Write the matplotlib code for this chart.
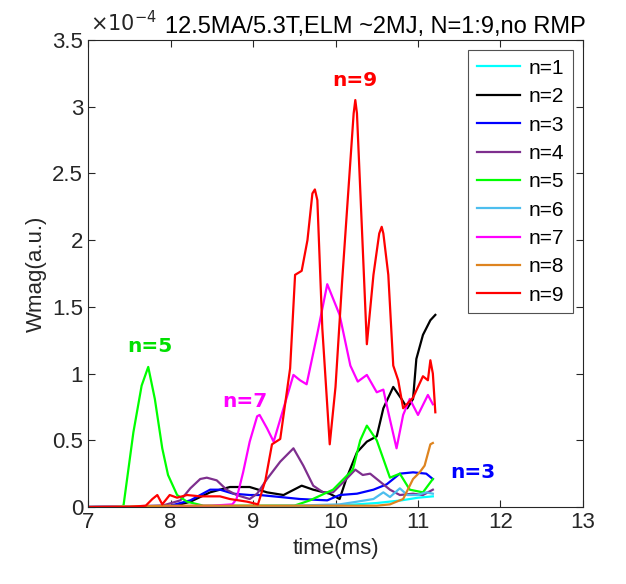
import matplotlib
matplotlib.use("Agg")
import matplotlib.pyplot as plt

# time axes (ms) and Wmag values (x1e-4)
t1 = [7.0, 10.0, 10.5, 10.8, 11.0, 11.18]
w1 = [0.0, 0.01, 0.03, 0.05, 0.07, 0.08]

t2 = [7.0, 8.0, 8.24, 8.48, 8.72, 8.96, 9.17, 9.37, 9.59, 9.73, 9.93, 10.05, 10.13,
      10.26, 10.38, 10.5, 10.58, 10.7, 10.8, 10.87, 10.94, 10.98, 11.06, 11.15, 11.21]
w2 = [0.0, 0.0, 0.04, 0.11, 0.15, 0.15, 0.11, 0.09, 0.16, 0.13, 0.1, 0.06, 0.21,
      0.41, 0.49, 0.53, 0.74, 0.9, 0.81, 0.74, 0.81, 1.11, 1.29, 1.4, 1.44]

t3 = [7.0, 8.0, 8.24, 8.36, 8.48, 8.6, 8.76, 8.96, 9.08, 9.33, 9.57, 9.9, 10.05,
      10.26, 10.46, 10.62, 10.78, 10.94, 11.1, 11.18]
w3 = [0.0, 0.01, 0.05, 0.09, 0.13, 0.13, 0.1, 0.09, 0.09, 0.075, 0.06, 0.05, 0.09,
      0.1, 0.13, 0.17, 0.25, 0.26, 0.25, 0.21]

t4 = [7.0, 7.9, 8.12, 8.24, 8.36, 8.44, 8.56, 8.68, 8.8, 8.96, 9.05, 9.17, 9.33, 9.49,
      9.61, 9.73, 9.85, 9.97, 10.1, 10.24, 10.33, 10.42, 10.54, 10.66, 10.78, 10.94,
      11.06, 11.18]
w4 = [0.0, 0.01, 0.05, 0.14, 0.21, 0.22, 0.2, 0.13, 0.09, 0.06, 0.1, 0.21, 0.34, 0.44,
      0.31, 0.16, 0.11, 0.11, 0.19, 0.28, 0.24, 0.25, 0.19, 0.13, 0.09, 0.1,
      0.09, 0.13]

t5 = [7.0, 7.35, 7.43, 7.55, 7.65, 7.73, 7.81, 7.9, 7.97, 8.08, 8.2, 8.4, 9.0, 9.5,
      9.69, 9.97, 10.21, 10.3, 10.38, 10.5, 10.66, 10.78, 10.9, 11.06, 11.18]
w5 = [0.0, 0.0, 0.01, 0.56, 0.91, 1.05, 0.81, 0.44, 0.24, 0.09, 0.04, 0.01, 0.01, 0.01,
      0.05, 0.13, 0.28, 0.5, 0.61, 0.5, 0.22, 0.25, 0.13, 0.11, 0.21]

t6 = [7.0, 9.5, 10.05, 10.26, 10.46, 10.58, 10.66, 10.78, 10.87, 10.99, 11.1, 11.18]
w6 = [0.0, 0.01, 0.02, 0.04, 0.06, 0.11, 0.075, 0.14, 0.09, 0.09, 0.11, 0.1]

t7 = [7.0, 8.5, 8.75, 8.8, 8.88, 8.96, 9.05, 9.08, 9.17, 9.25, 9.37, 9.49, 9.57, 9.65,
      9.78, 9.9, 10.05, 10.18, 10.27, 10.38, 10.5, 10.58, 10.64, 10.74, 10.82, 10.9,
      11.0, 11.12, 11.18]
w7 = [0.0, 0.01, 0.02, 0.06, 0.26, 0.49, 0.68, 0.69, 0.59, 0.49, 0.74, 0.99, 0.95, 0.92,
      1.3, 1.67, 1.44, 1.06, 0.94, 0.99, 0.86, 0.88, 0.71, 0.44, 0.69, 0.81,
      0.69, 0.84, 0.77]

t8 = [7.0, 8.0, 10.5, 10.66, 10.82, 10.94, 11.02, 11.08, 11.15, 11.18]
w8 = [0.0, 0.01, 0.01, 0.02, 0.06, 0.21, 0.26, 0.31, 0.47, 0.48]

t9 = [7.0, 7.5, 7.7, 7.78, 7.84, 7.9, 7.99, 8.08, 8.2, 8.36, 8.6, 8.72, 8.93, 9.06,
      9.15, 9.23, 9.33, 9.45, 9.51, 9.59, 9.66, 9.72, 9.75, 9.78, 9.84, 9.93, 10.0,
      10.08, 10.18, 10.22, 10.24, 10.26, 10.32, 10.38, 10.46, 10.53, 10.56, 10.58,
      10.64, 10.7, 10.76, 10.82, 10.88, 10.94, 11.0, 11.06, 11.12, 11.15, 11.18, 11.21]
w9 = [0.0, 0.0, 0.01, 0.06, 0.09, 0.02, 0.09, 0.07, 0.09, 0.08, 0.08, 0.06, 0.04, 0.02,
      0.2, 0.47, 0.51, 1.04, 1.74, 1.77, 2.0, 2.35, 2.38, 2.3, 1.34, 0.47, 0.9,
      1.69, 2.59, 2.95, 3.05, 2.95, 2.09, 1.22, 1.74, 2.05, 2.1, 2.05,
      1.74, 1.06, 0.95, 0.74, 0.78, 0.82, 0.9, 0.98, 0.95, 1.1, 1.0, 0.71]

series = [(t1, w1), (t2, w2), (t3, w3), (t4, w4), (t5, w5),
          (t6, w6), (t7, w7), (t8, w8), (t9, w9)]
labels = ['n=%d' % k for k in range(1, 10)]
colors = ['#00FFFF', '#000000', '#0000FF', '#7E2F8E', '#00FF00',
          '#4DBEEE', '#FF00FF', '#DE841F', '#FF0000']

plt.rcParams['font.family'] = ['Liberation Sans', 'DejaVu Sans']
grey = '#262626'

fig = plt.figure(figsize=(6.26, 5.84), dpi=100)
ax = fig.add_axes([0.1406, 0.1318, 0.7907, 0.7997])

for (t, w), lab, c in zip(series, labels, colors):
    ax.plot(t, w, color=c, lw=1.6, label=lab)

ax.set_xlim(7, 13)
ax.set_ylim(0, 3.5)
ax.set_xticks([7, 8, 9, 10, 11, 12, 13])
ax.set_yticks([0, 0.5, 1, 1.5, 2, 2.5, 3, 3.5])
ax.set_yticklabels(['0', '0.5', '1', '1.5', '2', '2.5', '3', '3.5'])
ax.tick_params(direction='in', top=True, right=True, labelsize=16,
               colors=grey, length=5, width=0.8)
for s in ax.spines.values():
    s.set_color(grey)
    s.set_linewidth(0.8)

ax.set_xlabel('time(ms)', fontsize=16, color=grey)
ax.set_ylabel('Wmag(a.u.)', fontsize=16, color=grey)

ax.text(0.005, 1.01, r'$\times10^{-4}$', transform=ax.transAxes,
        fontsize=15, color=grey, ha='left', va='bottom')
ax.text(1.005, 1.005, '12.5MA/5.3T,ELM ~2MJ, N=1:9,no RMP', transform=ax.transAxes,
        fontsize=17, color='black', ha='right', va='bottom')

leg = ax.legend(loc='upper right', fontsize=15, frameon=True, fancybox=False,
                handlelength=2.1, handletextpad=0.4, labelspacing=0.45,
                borderpad=0.4, borderaxespad=0.5)
leg.get_frame().set_edgecolor(grey)
leg.get_frame().set_linewidth(0.8)

note = dict(fontsize=14.5, fontweight='bold', ha='center', va='center',
            family='DejaVu Sans')
ax.text(10.24, 3.2, 'n=9', color='#FF0000', **note)
ax.text(7.75, 1.2, 'n=5', color='#00E000', **note)
ax.text(8.9, 0.79, 'n=7', color='#FF00FF', **note)
ax.text(11.67, 0.26, 'n=3', color='#0000FF', **note)

fig.savefig('out.png', dpi=100)
